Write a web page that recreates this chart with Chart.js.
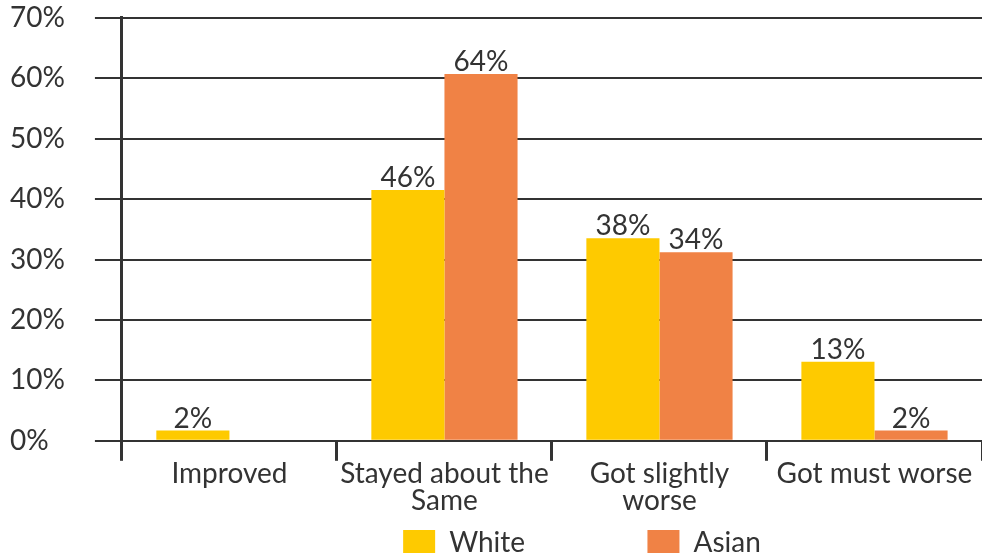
<!DOCTYPE html>
<html>
<head>
<meta charset="utf-8">
<script src="https://cdn.jsdelivr.net/npm/chart.js@4.4.0/dist/chart.umd.min.js"></script>
<style>
  html, body { margin: 0; padding: 0; background: #fff; overflow: hidden; }
  #wrap { width: 982px; height: 574px; }
</style>
</head>
<body>
<div id="wrap"><canvas id="chart"></canvas></div>
<script>
// 카테고리 / 데이터
const categories = ['Improved', ['Stayed about the', 'Same'], ['Got slightly', 'worse'], 'Got must worse'];
const seriesNames = ['White', 'Asian'];
// bar heights as drawn in the picture
const whiteValues = [1.7, 41.5, 33.5, 13.1];
const asianValues = [null, 60.7, 31.2, 1.7];
// labels printed above the bars
const whiteLabels = ['2%', '46%', '38%', '13%'];
const asianLabels = ['', '64%', '34%', '2%'];
const yTicks = [0, 10, 20, 30, 40, 50, 60, 70];

const textColor = '#333333';
const lineColor = '#333333';
const fontFamily = 'Lato, "Open Sans", sans-serif';
const fontSize = 28;

// 막대 위 라벨 그리기
const barLabels = {
  id: 'barLabels',
  afterDatasetsDraw(chart) {
    const ctx = chart.ctx;
    const labelSets = [whiteLabels, asianLabels];
    ctx.save();
    ctx.font = fontSize + 'px ' + fontFamily;
    ctx.fillStyle = textColor;
    ctx.textAlign = 'center';
    ctx.textBaseline = 'alphabetic';
    chart.data.datasets.forEach((ds, i) => {
      const meta = chart.getDatasetMeta(i);
      meta.data.forEach((bar, j) => {
        const txt = labelSets[i][j];
        if (!txt || ds.data[j] == null) return;
        ctx.fillText(txt, bar.x, bar.y - 3);
      });
    });
    ctx.restore();
  }
};

// 범례 위치 살짝 이동
const legendShift = {
  id: 'legendShift',
  afterLayout(chart) {
    const lg = chart.legend;
    if (!lg) return;
    lg.left += 30; lg.right += 30;
    lg.top -= 7; lg.bottom -= 7;
  }
};

const ctx = document.getElementById('chart').getContext('2d');
new Chart(ctx, {
  type: 'bar',
  data: {
    labels: categories,
    datasets: [
      { label: seriesNames[0], data: whiteValues, backgroundColor: '#FECA00' },
      { label: seriesNames[1], data: asianValues, backgroundColor: '#F08245' }
    ]
  },
  options: {
    responsive: true,
    maintainAspectRatio: false,
    animation: false,
    layout: { padding: { left: 10, right: 0, top: 0, bottom: 0 } },
    datasets: {
      bar: { barPercentage: 1, categoryPercentage: 0.68 }
    },
    scales: {
      x: {
        grid: {
          offset: true,
          drawOnChartArea: false,
          drawTicks: true,
          tickLength: 20,
          color: lineColor,
          lineWidth: 3
        },
        border: { display: false },
        ticks: {
          color: textColor,
          font: { family: fontFamily, size: fontSize, lineHeight: 0.95 },
          padding: 0,
          maxRotation: 0,
          autoSkip: false
        }
      },
      y: {
        min: 0,
        max: 70,
        afterBuildTicks(axis) {
          axis.ticks = yTicks.map(v => ({ value: v }));
        },
        grid: {
          color: lineColor,
          lineWidth: 2,
          drawTicks: true,
          tickLength: 27
        },
        border: { display: true, color: lineColor, width: 3 },
        ticks: {
          color: textColor,
          font: { family: fontFamily, size: fontSize, lineHeight: 0.2 },
          crossAlign: 'far',
          padding: 15,
          callback: v => v + '%'
        }
      }
    },
    plugins: {
      legend: {
        position: 'bottom',
        fullSize: false,
        labels: {
          color: textColor,
          font: { family: fontFamily, size: fontSize },
          boxWidth: 32,
          boxHeight: 26,
          padding: 22,
          // 범례 항목 사이 간격을 넓히기 위해 뒤에 공백 추가
          generateLabels(chart) {
            const items = Chart.defaults.plugins.legend.labels.generateLabels(chart);
            items[0].text = items[0].text + ' '.repeat(14);
            return items;
          }
        }
      },
      tooltip: { enabled: false }
    }
  },
  plugins: [barLabels, legendShift]
});
</script>
</body>
</html>
